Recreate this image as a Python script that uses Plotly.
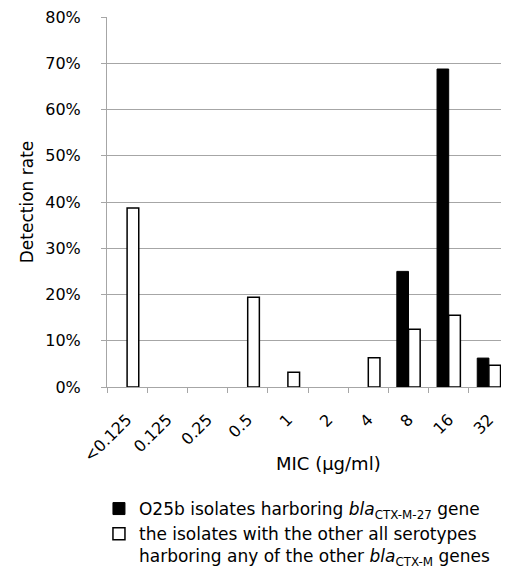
import plotly.graph_objects as go

categories = ["<0.125", "0.125", "0.25", "0.5", "1", "2", "4", "8", "16", "32"]
o25b_values = [0, 0, 0, 0, 0, 0, 0, 0.25, 0.6875, 0.0625]
other_values = [0.387, 0, 0, 0.194, 0.032, 0, 0.063, 0.125, 0.155, 0.047]
y_ticks = [0, 0.1, 0.2, 0.3, 0.4, 0.5, 0.6, 0.7, 0.8]

FONT = "'DejaVu Sans', sans-serif"
GRID = "#A6A6A6"


def hide_zero(vals):
    return [v if v else None for v in vals]


fig = go.Figure()
fig.add_trace(go.Bar(
    x=categories, y=hide_zero(o25b_values),
    name="O25b isolates harboring <i>bla</i><sub>CTX-M-27</sub> gene",
    marker=dict(color="black", line=dict(color="black", width=1)),
))
fig.add_trace(go.Bar(
    x=categories, y=hide_zero(other_values),
    name="the isolates with the other all serotypes<br>harboring any of the other <i>bla</i><sub>CTX-M</sub> genes",
    marker=dict(color="white", line=dict(color="black", width=1.5)),
))

# page body has an 8px margin: size the figure so the plot lands where the reference has it
fig.update_layout(
    width=501, height=566,
    margin=dict(l=99, r=0, t=9, b=186),
    paper_bgcolor="white", plot_bgcolor="white",
    barmode="group", bargap=0.42, bargroupgap=0,
    font=dict(family=FONT, size=15, color="black"),
    showlegend=True,
    legend=dict(x=-0.02, y=-0.282, xanchor="left", yanchor="top",
                font=dict(family=FONT, size=17, color="black"),
                tracegroupgap=0, itemwidth=30, valign="top",
                bgcolor="rgba(0,0,0,0)"),
    xaxis=dict(
        type="category", tickson="boundaries", ticks="outside", ticklen=5,
        tickcolor=GRID, showgrid=False, showline=True, linecolor=GRID, linewidth=1,
        tickangle=-45, tickfont=dict(family=FONT, size=16),
        ticklabelstandoff=16, automargin=False, ticklabeloverflow="allow",
    ),
    yaxis=dict(
        range=[0, 0.8], tickvals=y_ticks, tickformat=".0%",
        showgrid=True, gridcolor=GRID, gridwidth=1,
        showline=True, linecolor=GRID, linewidth=1,
        ticks="outside", ticklen=5, tickcolor=GRID,
        tickfont=dict(family=FONT, size=16), automargin=False,
        ticklabelstandoff=17, ticklabeloverflow="allow",
        title=dict(text="Detection rate", font=dict(family=FONT, size=17), standoff=7),
        zeroline=False,
    ),
    annotations=[dict(
        text="MIC (µg/ml)", xref="paper", yref="paper", x=0.55, y=-0.208,
        xanchor="center", yanchor="middle", showarrow=False,
        font=dict(family=FONT, size=18, color="black"),
    )],
)

fig.write_html("out.html")
